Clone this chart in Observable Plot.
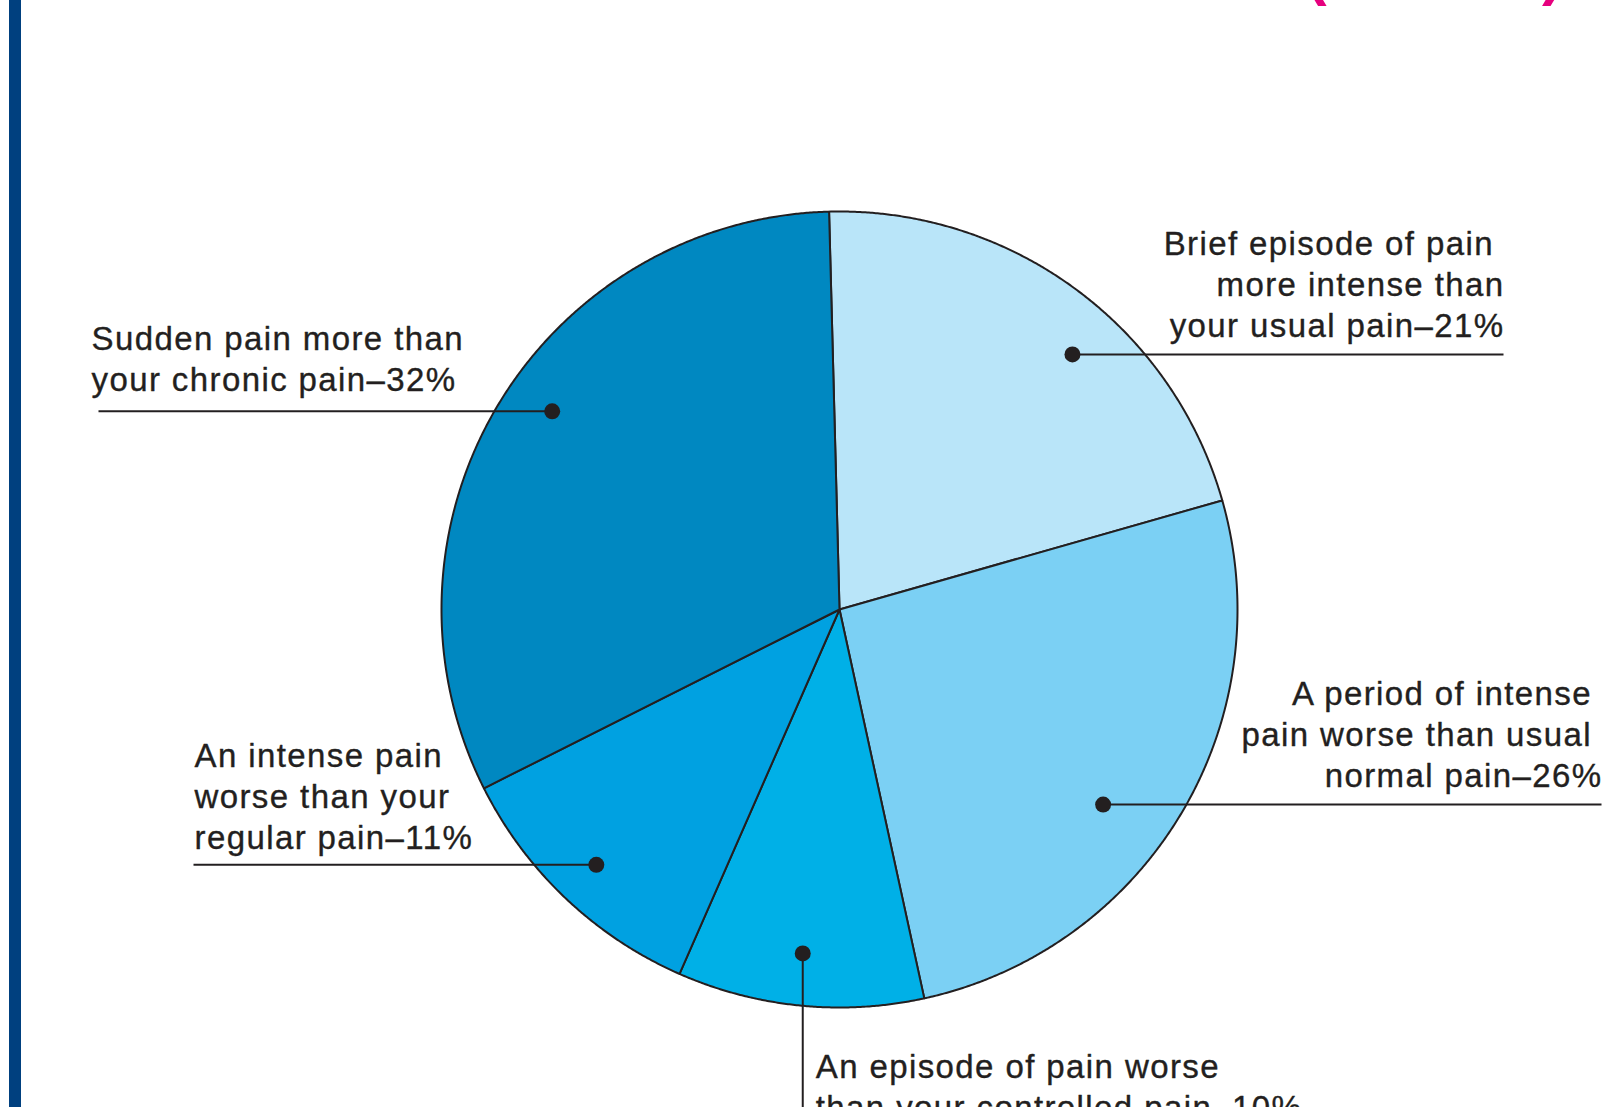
<!DOCTYPE html>
<html>
<head>
<meta charset="utf-8">
<script src="https://cdn.jsdelivr.net/npm/d3@7"></script>
<script src="https://cdn.jsdelivr.net/npm/@observablehq/plot@0.6"></script>
<style>
  html, body { margin: 0; padding: 0; background: #fff; overflow: hidden; width: 1612px; height: 1107px; }
  #bar { position: absolute; left: 9px; top: 0; width: 12px; height: 1107px; background: #00407f; }
  #title { position: absolute; top: 0; left: 0; width: 1612px; height: 10px; overflow: hidden; }
  #title span { position: absolute; font: bold 62px "Liberation Sans", Arial, sans-serif; color: #e6007e; line-height: 1; }
  #chart { position: absolute; left: 0; top: 0; }
</style>
</head>
<body>
<div id="bar"></div>
<div id="title"><span style="left:1306px;top:-59px">(</span><span style="left:1542px;top:-59px">)</span></div>
<div id="chart"></div>
<script>
// ---- data (clockwise from the top) ----
const categories = ["brief", "period", "episode", "intense", "sudden"];
const shares = [21, 26, 10, 11, 32];
const labelLines = [
  ["Brief episode of pain\u00a0", "more intense than", "your usual pain–21%"],
  ["A period of intense\u00a0", "pain worse than usual\u00a0", "normal pain–26%"],
  ["An episode of pain worse", "than your controlled pain–10%"],
  ["An intense pain", "worse than your", "regular pain–11%"],
  ["Sudden pain more than", "your chronic pain–32%"]
];
const colors = ["#b9e5f9", "#7bd0f4", "#00b0e7", "#00a1e1", "#0088c1"];

// ---- layout ----
const W = 1612, H = 1107;
const CX = 839, CY = 609, R = 398;          // pie centre and radius in pixels
const px = (v) => v / R;                     // pixels -> pie-radius units
const lineGap = px(40.8);
// annotation placement: dot angle nudge (deg), dot radius fraction, label side & edge, baseline gap above leader
const annot = [
  {nudge: 6.1, rf: 0.868, side: "right", textEdge: px(1504 - CX), lineEdge: px(1503 - CX), gap: 17.3},
  {nudge: 5.6, rf: 0.824, side: "right", textEdge: px(1602 - CX), lineEdge: px(1601 - CX), gap: 18},
  {nudge: 0.4, rf: 0.869, side: "below"},
  {nudge: 0.1, rf: 0.886, side: "left", textEdge: px(194 - CX), lineEdge: px(193 - CX), gap: 16.3},
  {nudge: 3.7, rf: 0.877, side: "left", textEdge: px(91 - CX), lineEdge: px(98 - CX), gap: 20}
];

const data = categories.map((key, i) => ({key, share: shares[i], lines: labelLines[i], ...annot[i]}));
const arcs = d3.pie().sort(null).value(d => d.share).startAngle(-1.5 * Math.PI / 180)(data);

// slice outlines sampled along the arc
const polys = arcs.flatMap(a => {
  const key = a.data.key;
  const pts = [{key, x: 0, y: 0}];
  const n = Math.ceil((a.endAngle - a.startAngle) / (Math.PI / 720));
  for (let i = 0; i <= n; i++) {
    const t = a.startAngle + (a.endAngle - a.startAngle) * i / n;
    pts.push({key, x: Math.sin(t), y: -Math.cos(t)});
  }
  pts.push({key, x: 0, y: 0});
  return pts;
});

const dots = [], links = [], texts = [];
arcs.forEach(a => {
  const d = a.data;
  const t = (a.startAngle + a.endAngle) / 2 + d.nudge * Math.PI / 180;
  const dx = d.rf * Math.sin(t), dy = -d.rf * Math.cos(t);
  dots.push({x: dx, y: dy});
  if (d.side === "below") {
    links.push({x1: dx, y1: dy, x2: dx, y2: px(H - CY)});
    d.lines.forEach((s, k) => texts.push({x: dx + px(13), y: dy + px(125) + k * lineGap, text: s, anchor: "start"}));
  } else {
    links.push({x1: dx, y1: dy, x2: d.lineEdge, y2: dy});
    const m = d.lines.length;
    d.lines.forEach((s, k) => texts.push({
      x: d.textEdge, y: dy - px(d.gap) - (m - 1 - k) * lineGap, text: s,
      anchor: d.side === "right" ? "end" : "start"
    }));
  }
});

const ink = "#231f20";
const textStyle = {text: "text", lineAnchor: "bottom", fontSize: 33, fill: ink, stroke: ink, strokeWidth: 0.35};
const chart = Plot.plot({
  width: W, height: H, margin: 0,
  x: {domain: [-CX / R, (W - CX) / R], range: [0, W], axis: null},
  y: {domain: [-CY / R, (H - CY) / R], range: [0, H], axis: null},
  color: {domain: categories, range: colors},
  style: "font-family: 'Liberation Sans', Arial, sans-serif; letter-spacing: 1.4px; background: transparent;",
  marks: [
    Plot.line(polys, {x: "x", y: "y", z: "key", fill: "key", stroke: ink, strokeWidth: 2, strokeLinejoin: "round"}),
    Plot.link(links, {x1: "x1", y1: "y1", x2: "x2", y2: "y2", stroke: ink, strokeWidth: 2}),
    Plot.dot(dots, {x: "x", y: "y", r: 8, fill: ink}),
    Plot.text(texts.filter(d => d.anchor === "start"), {x: "x", y: "y", textAnchor: "start", ...textStyle}),
    Plot.text(texts.filter(d => d.anchor === "end"), {x: "x", y: "y", textAnchor: "end", ...textStyle})
  ]
});
document.getElementById("chart").appendChild(chart);
</script>
</body>
</html>
